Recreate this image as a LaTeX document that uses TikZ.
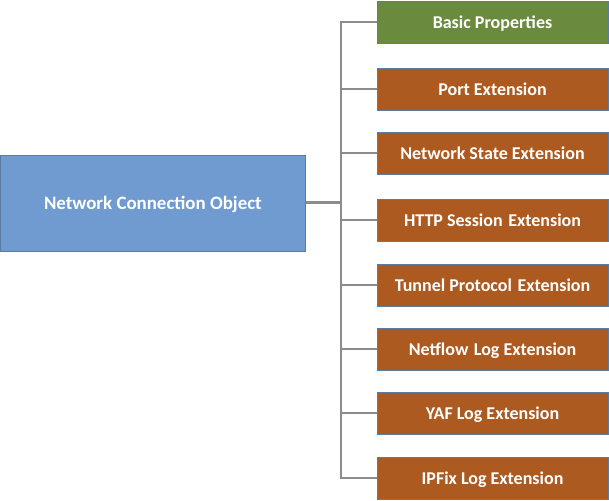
\documentclass[tikz,border=0pt]{standalone}
\usepackage{fontspec}
\setmainfont{Carlito}
\definecolor{mainblue}{HTML}{6F9BD1}
\definecolor{boxedge}{HTML}{5B7BA0}
\definecolor{basicgreen}{HTML}{6A8B3E}
\definecolor{extorange}{HTML}{AD5A20}
\definecolor{linkgray}{HTML}{8C8C8C}
\newcommand{\wsp}{\hspace{5.5bp}}
\begin{document}
\begin{tikzpicture}[x=1bp,y=1bp,
  box/.style={draw=boxedge,line width=0.8bp,text=white,font=\fontsize{18bp}{20bp}\selectfont\bfseries,inner sep=0pt,anchor=center,text depth=0pt},
  root/.style={box,fill=mainblue,minimum width=305bp,minimum height=96bp},
  leaf/.style={box,minimum width=231bp,minimum height=42bp},
  link/.style={draw=linkgray,line width=2bp},
  rootlink/.style={draw=linkgray,line width=3bp}]
\useasboundingbox (0,0) rectangle (609,501);
\node[root,font=\fontsize{18.9bp}{20bp}\selectfont\bfseries] (obj) at (152.9,298) {Network Connection Object};
\node[leaf,fill=basicgreen] (b1) at (492.5,479) {Basic Properties};
\node[leaf,fill=extorange] (b2) at (492.5,412) {Port Extension};
\node[leaf,fill=extorange] (b3) at (492.5,347.5) {Network State Extension};
\node[leaf,fill=extorange] (b4) at (492.5,281) {HTTP Session\wsp Extension};
\node[leaf,fill=extorange] (b5) at (492.5,216) {Tunnel Protocol\wsp Extension};
\node[leaf,fill=extorange] (b6) at (492.5,152) {Netflow\wsp Log Extension};
\node[leaf,fill=extorange] (b7) at (492.5,88) {YAF Log Extension};
\node[leaf,fill=extorange] (b8) at (492.5,23) {IPFix Log Extension};
\coordinate (trunk) at (340.5,0);
\coordinate (ttop) at (b1.west -| trunk);
\coordinate (tbot) at (b8.west -| trunk);
\coordinate (tmid) at (obj.east -| trunk);
\draw[link] ([yshift=1bp]ttop) -- ([yshift=-1bp]tbot);
\draw[rootlink] (obj.east) -- (tmid);
\foreach \b in {b1,b2,b3,b4,b5,b6,b7,b8}{
  \draw[link] ([xshift=-1bp]\b.west -| trunk) -- (\b.west);
}
\end{tikzpicture}
\end{document}
